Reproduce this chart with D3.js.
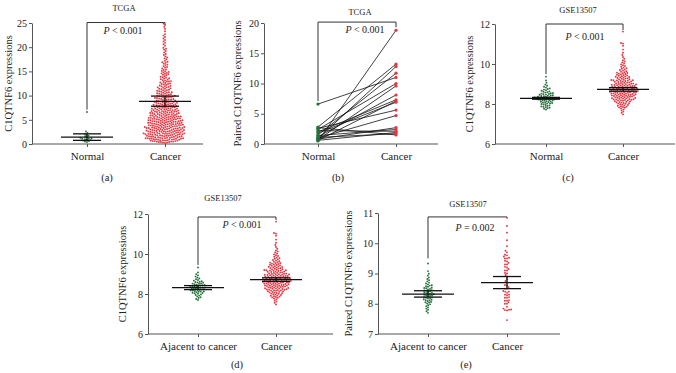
<!DOCTYPE html>
<html>
<head>
<meta charset="utf-8">
<script src="https://cdn.jsdelivr.net/npm/d3@7"></script>
<style>
  body { margin: 0; background: #fff; }
  text { font-family: "Liberation Serif", "Times New Roman", serif; fill: #222; }
</style>
</head>
<body>
<div id="wrapper"></div>
<script>
// ---- data ----

// (a) TCGA, all samples
const normalA = [0.4,0.5,0.6,0.7,0.8,0.9,1.0,1.1,1.1,1.2,1.3,1.4,1.6,1.7,1.9,2.1,2.3,2.6,6.6];
const cancerA = [
  0.2,0.3,0.3,0.4,0.4,0.4,0.5,0.5,0.5,0.6,0.6,0.6,0.7,0.7,0.7,0.8,0.8,0.8,0.9,0.9,0.9,0.9,
  1.0,1.0,1.0,1.1,1.1,1.1,1.1,1.2,1.2,1.2,1.2,1.2,1.3,1.3,1.3,1.4,1.4,1.4,1.4,1.5,1.5,1.5,1.5,
  1.6,1.6,1.6,1.7,1.7,1.7,1.7,1.7,1.8,1.8,1.8,1.9,1.9,1.9,1.9,
  2.0,2.0,2.0,2.0,2.1,2.1,2.1,2.1,2.2,2.2,2.2,2.2,2.2,2.3,2.3,2.3,2.3,2.4,2.4,2.4,
  2.5,2.5,2.5,2.5,2.6,2.6,2.6,2.6,2.7,2.7,2.7,2.7,2.8,2.8,2.8,2.8,2.9,2.9,2.9,2.9,
  3.0,3.0,3.0,3.0,3.1,3.1,3.1,3.2,3.2,3.2,3.2,3.3,3.3,3.3,3.3,3.3,3.4,3.4,3.4,3.4,
  3.5,3.5,3.5,3.5,3.6,3.6,3.6,3.7,3.7,3.7,3.7,3.8,3.8,3.8,3.8,3.9,3.9,3.9,3.9,
  4.0,4.0,4.0,4.0,4.1,4.1,4.1,4.1,4.2,4.2,4.2,4.3,4.3,4.3,4.3,4.4,4.4,4.4,4.4,
  4.5,4.5,4.5,4.6,4.6,4.6,4.6,4.7,4.7,4.7,4.7,4.8,4.8,4.8,4.9,4.9,4.9,4.9,
  5.0,5.0,5.0,5.1,5.1,5.1,5.1,5.2,5.2,5.2,5.3,5.3,5.3,5.3,5.4,5.4,5.4,
  5.5,5.5,5.5,5.5,5.6,5.6,5.6,5.7,5.7,5.7,5.7,5.8,5.8,5.8,5.9,5.9,5.9,
  6.0,6.0,6.0,6.1,6.1,6.1,6.2,6.2,6.2,6.3,6.3,6.3,6.4,6.4,6.4,
  6.5,6.5,6.5,6.6,6.6,6.6,6.7,6.7,6.7,6.8,6.8,6.8,6.9,6.9,6.9,
  7.0,7.0,7.0,7.1,7.1,7.1,7.2,7.2,7.3,7.3,7.3,7.4,7.4,7.4,
  7.5,7.5,7.6,7.6,7.6,7.7,7.7,7.7,7.8,7.8,7.9,7.9,7.9,
  8.0,8.0,8.1,8.1,8.1,8.2,8.2,8.3,8.3,8.4,8.4,8.4,8.5,8.5,8.6,8.6,8.7,8.7,8.7,8.8,8.8,8.9,8.9,
  9.0,9.0,9.1,9.1,9.2,9.2,9.3,9.3,9.4,9.4,9.5,9.5,9.6,9.6,9.7,9.7,9.8,9.8,9.9,9.9,
  10.0,10.0,10.1,10.1,10.2,10.3,10.3,10.4,10.4,10.5,10.6,10.6,10.7,10.7,10.8,10.9,10.9,
  11.0,11.1,11.1,11.2,11.3,11.4,11.4,11.5,11.6,11.7,11.7,11.8,11.9,11.9,
  12.0,12.1,12.2,12.3,12.4,12.4,12.5,12.6,12.7,12.8,12.9,12.9,
  13.0,13.1,13.2,13.3,13.4,13.5,13.6,13.7,13.8,13.9,
  14.0,14.2,14.3,14.4,14.5,14.6,14.7,14.8,14.9,
  15.0,15.1,15.3,15.4,15.6,15.8,15.9,16.1,16.3,16.4,16.6,16.8,16.9,
  17.0,17.2,17.5,17.7,17.9,18.1,18.4,18.6,18.9,19.2,19.5,19.7,19.9,
  20.3,20.6,20.9,21.2,21.5,21.8,22.1,22.4,22.7,23.3,23.8,24.2,24.6,24.9
];

// (b) TCGA, paired samples (same order in both arrays)
const normalB = [6.6,0.5,2.8,0.9,1.5,2.4,0.7,1.2,2.0,0.6,1.8,2.6,1.0,0.8,1.4,2.2,0.6,1.1,2.7];
const cancerB = [11.0,18.8,13.2,12.8,11.7,10.0,9.6,8.1,7.3,7.1,6.9,5.6,4.7,2.7,2.4,2.1,1.9,1.7,1.5];

// (c) GSE13507 normal
const normalC = [
  7.72,7.76,7.79,7.81,7.84,7.86,7.88,7.90,7.93,7.95,7.98,
  8.00,8.02,8.03,8.05,8.06,8.08,8.10,8.11,8.13,8.14,8.16,8.17,8.19,8.20,
  8.21,8.22,8.23,8.24,8.25,8.26,8.27,8.28,8.29,8.30,8.31,8.32,8.33,8.34,8.36,8.37,8.39,
  8.40,8.41,8.43,8.44,8.46,8.47,8.49,8.50,8.52,8.54,8.55,8.57,8.59,
  8.61,8.63,8.66,8.69,8.72,8.75,8.78,8.82,8.86,8.91,8.97,9.06,9.18,9.37
];
// GSE13507 cancer (used in c and d)
const cancerGSE = [
  7.48,7.56,7.62,7.68,7.73,7.78,
  7.81,7.83,7.85,7.87,7.89,7.91,7.93,7.95,7.97,7.99,
  8.01,8.02,8.04,8.05,8.07,8.08,8.10,8.11,8.13,8.14,8.16,8.17,8.18,8.19,
  8.20,8.21,8.22,8.23,8.24,8.25,8.26,8.27,8.28,8.29,8.30,8.31,8.32,8.33,8.34,8.35,8.36,8.37,8.38,8.39,
  8.40,8.41,8.41,8.42,8.43,8.44,8.45,8.46,8.46,8.47,8.48,8.49,8.50,8.51,8.52,8.53,8.53,8.54,8.55,8.56,8.57,8.58,8.58,8.59,
  8.60,8.61,8.61,8.62,8.63,8.64,8.64,8.65,8.66,8.67,8.68,8.68,8.69,8.70,8.71,8.72,8.72,8.73,8.74,8.75,8.76,8.76,8.77,8.78,8.79,8.79,
  8.80,8.81,8.82,8.83,8.84,8.85,8.86,8.87,8.88,8.89,8.90,8.90,8.91,8.92,8.93,8.94,8.95,8.96,8.97,8.98,8.99,8.99,
  9.00,9.01,9.02,9.03,9.05,9.06,9.07,9.08,9.10,9.11,9.12,9.13,9.15,9.16,9.17,9.18,9.19,9.19,
  9.20,9.21,9.23,9.24,9.26,9.27,9.29,9.30,9.32,9.33,9.35,9.36,9.38,9.39,
  9.41,9.43,9.45,9.46,9.48,9.50,9.52,9.54,9.55,9.57,9.59,
  9.61,9.64,9.67,9.70,9.73,9.76,9.79,9.82,9.86,9.90,9.94,9.98,
  10.03,10.08,10.13,10.18,10.26,10.35,10.45,10.56,10.72,10.91,11.02,11.05,11.62
];
// GSE13507 adjacent to cancer (used in d and e)
const adjacentGSE = [
  7.70,7.75,7.80,7.84,7.88,7.92,7.95,7.98,
  8.01,8.04,8.05,8.06,8.09,8.11,8.12,8.13,8.15,8.17,8.18,
  8.20,8.21,8.22,8.24,8.26,8.27,8.28,8.30,8.31,8.32,8.33,8.35,8.36,8.37,8.39,
  8.41,8.43,8.44,8.45,8.47,8.49,8.51,8.52,8.53,8.56,8.58,
  8.60,8.61,8.64,8.67,8.70,8.74,8.78,8.82,8.87,8.93,8.99,9.08,9.33
];
// (e) GSE13507 paired cancer
const cancerE = [
  7.46,7.78,7.79,7.80,7.81,7.84,7.90,8.00,8.00,8.05,8.10,8.10,8.12,
  8.20,8.20,8.22,8.28,8.30,8.30,8.36,8.40,8.40,8.42,8.50,8.50,8.55,8.60,8.62,
  8.70,8.75,8.82,8.90,8.95,9.00,9.02,9.10,9.10,9.15,9.20,9.22,9.30,9.30,9.35,
  9.40,9.42,9.50,9.50,9.52,9.56,9.60,9.62,9.70,9.75,9.90,10.10,10.35,10.57,10.84
];

// center line, lower and upper whisker for each group
const summaryA = [[1.4, 0.75, 2.1], [8.8, 7.8, 9.9]];
const summaryC = [[8.28, 8.24, 8.33], [8.73, 8.64, 8.82]];
const summaryD = [[8.32, 8.22, 8.42], [8.72, 8.63, 8.81]];
const summaryE = [[8.32, 8.22, 8.43], [8.70, 8.50, 8.90]];

// tick labels
const ticksA = [0, 5, 10, 15, 20, 25];
const ticksB = [0, 5, 10, 15, 20];
const ticksCD = [6, 8, 10, 12];
const ticksE = [7, 8, 9, 10, 11];

const catsNormal = ["Normal", "Cancer"];
const catsAdjacent = ["Ajacent to cancer", "Cancer"];

const green = "#24713a";
const red = "#e8323e";

// ---- layout of each panel ----
const panels = [
  {id:"(a)", title:"TCGA", ylab:"C1QTNF6 expressions", pText:"< 0.001",
   cats:catsNormal, groups:[normalA, cancerA], summary:summaryA,
   domain:[0,25], ticks:ticksA, axisX:32, xEnd:203, top:23, bottom:144, catX:[87,165],
   titleXY:[124,11], pXY:[123,34], labXY:[107,181], ylabX:12,
   bracket:[25.1, 7.1, 24.6]},
  {id:"(b)", title:"TCGA", ylab:"Paired C1QTNF6 expressions", pText:"< 0.001",
   cats:catsNormal, paired:[normalB, cancerB],
   domain:[0,20], ticks:ticksB, axisX:264, xEnd:438, top:23, bottom:144, catX:[318,396],
   titleXY:[360,15], pXY:[365,33], labXY:[338,181], ylabX:241,
   bracket:[20.15, 7.1, 19.3]},
  {id:"(c)", title:"GSE13507", ylab:"C1QTNF6 expressions", pText:"< 0.001",
   cats:catsNormal, groups:[normalC, cancerGSE], summary:summaryC,
   domain:[6,12], ticks:ticksCD, axisX:495, xEnd:675, top:24, bottom:144, catX:[546,623],
   titleXY:[578,13], pXY:[585,40], labXY:[568,181], ylabX:473,
   bracket:[12.0, 9.5, 11.7]},
  {id:"(d)", title:"GSE13507", ylab:"C1QTNF6 expressions", pText:"< 0.001",
   cats:catsAdjacent, groups:[adjacentGSE, cancerGSE], summary:summaryD,
   domain:[6,12], ticks:ticksCD, axisX:148, xEnd:333, top:214, bottom:334, catX:[198,276],
   titleXY:[223,201], pXY:[242,228], labXY:[237,368], ylabX:126,
   bracket:[11.85, 9.45, 11.7]},
  {id:"(e)", title:"GSE13507", ylab:"Paired C1QTNF6 expressions", pText:"= 0.002",
   cats:catsAdjacent, groups:[adjacentGSE, cancerE], summary:summaryE,
   domain:[7,11], ticks:ticksE, axisX:378, xEnd:560, top:213, bottom:334, catX:[428,507],
   titleXY:[468,207], pXY:[475,231], labXY:[466,368], ylabX:352,
   bracket:[10.87, 9.5, 10.85]}
];

const svg = d3.select("#wrapper").append("svg")
  .attr("width", 676)
  .attr("height", 373);

// place dots side by side so they don't overlap (bottom up)
function dodge(vals, y, pad) {
  const pts = vals.map(v => ({v: v, y: y(v)})).sort((a, b) => b.y - a.y);
  const placed = [];
  for (const p of pts) {
    const iv = [];
    for (const q of placed) {
      const dy = Math.abs(q.y - p.y);
      if (dy < pad) {
        const dx = Math.sqrt(pad * pad - dy * dy);
        iv.push([q.x - dx, q.x + dx]);
      }
    }
    const cands = [0].concat(...iv).sort((a, b) => Math.abs(a) - Math.abs(b));
    p.x = cands.find(c => iv.every(([a, b]) => c <= a + 1e-6 || c >= b - 1e-6));
    placed.push(p);
  }
  return pts;
}

function drawPanel(p) {
  const g = svg.append("g");
  const y = d3.scaleLinear().domain(p.domain).range([p.bottom, p.top]);
  const x = d3.scalePoint().domain(p.cats).range(p.catX);

  // y axis
  const ya = g.append("g")
    .attr("transform", `translate(${p.axisX},0)`)
    .call(d3.axisLeft(y).tickValues(p.ticks).tickFormat(d3.format("d"))
      .tickSize(3).tickSizeOuter(0).tickPadding(2));
  ya.selectAll("path, line").attr("stroke", "#555");
  ya.selectAll("text").style("font-family", '"Liberation Serif", serif')
    .style("font-size", "10px").attr("fill", "#222");

  // x axis
  g.append("line")
    .attr("x1", p.axisX).attr("x2", p.xEnd)
    .attr("y1", p.bottom).attr("y2", p.bottom)
    .attr("stroke", "#555");
  const xa = g.append("g")
    .attr("transform", `translate(0,${p.bottom})`)
    .call(d3.axisBottom(x).tickSize(3).tickSizeOuter(0).tickPadding(5));
  xa.select(".domain").remove();
  xa.selectAll("line").attr("stroke", "#555");
  xa.selectAll("text").style("font-family", '"Liberation Serif", serif')
    .style("font-size", "11px").attr("fill", "#222");

  // y label
  g.append("text")
    .attr("transform", `translate(${p.ylabX},${(p.top + p.bottom) / 2}) rotate(-90)`)
    .attr("text-anchor", "middle")
    .style("font-size", "10.5px")
    .text(p.ylab);

  // title and panel letter
  g.append("text").attr("x", p.titleXY[0]).attr("y", p.titleXY[1])
    .attr("text-anchor", "middle").style("font-size", "8.5px").text(p.title);
  g.append("text").attr("x", p.labXY[0]).attr("y", p.labXY[1])
    .attr("text-anchor", "middle").style("font-size", "10.5px").text(p.id);

  // significance bracket
  const bx0 = x(p.cats[0]), bx1 = x(p.cats[1]);
  g.append("path")
    .attr("d", `M${bx0},${y(p.bracket[1])}V${y(p.bracket[0])}H${bx1}V${y(p.bracket[2])}`)
    .attr("fill", "none").attr("stroke", "#333").attr("stroke-width", 1);
  const pt = g.append("text").attr("x", p.pXY[0]).attr("y", p.pXY[1])
    .attr("text-anchor", "middle").style("font-size", "10px");
  pt.append("tspan").style("font-style", "italic").text("P");
  pt.append("tspan").text(" " + p.pText);

  if (p.paired) {
    const [a, b] = p.paired;
    g.selectAll(".pair").data(a).join("line")
      .attr("class", "pair")
      .attr("x1", x(p.cats[0])).attr("x2", x(p.cats[1]))
      .attr("y1", d => y(d)).attr("y2", (d, i) => y(b[i]))
      .attr("stroke", "#111").attr("stroke-width", 0.8);
    g.selectAll(".pn").data(a).join("circle").attr("class", "pn")
      .attr("cx", x(p.cats[0])).attr("cy", d => y(d)).attr("r", 1.6).attr("fill", green);
    g.selectAll(".pc").data(b).join("circle").attr("class", "pc")
      .attr("cx", x(p.cats[1])).attr("cy", d => y(d)).attr("r", 1.6).attr("fill", red);
    return;
  }

  // dots
  p.groups.forEach((vals, gi) => {
    const cx = x(p.cats[gi]);
    const pts = dodge(vals, y, 2.1);
    g.append("g").selectAll("circle").data(pts).join("circle")
      .attr("cx", d => cx + d.x)
      .attr("cy", d => d.y)
      .attr("r", 0.95)
      .attr("fill", gi === 0 ? green : red);
  });

  // center line with whiskers
  p.summary.forEach((s, gi) => {
    const cx = x(p.cats[gi]);
    const sg = g.append("g").attr("stroke", "#111").attr("stroke-width", 1.3);
    sg.append("line").attr("x1", cx - 26).attr("x2", cx + 26).attr("y1", y(s[0])).attr("y2", y(s[0]));
    [s[1], s[2]].forEach(v => {
      sg.append("line").attr("x1", cx - 14).attr("x2", cx + 14).attr("y1", y(v)).attr("y2", y(v));
    });
    sg.append("line").attr("x1", cx).attr("x2", cx).attr("y1", y(s[1])).attr("y2", y(s[2]));
  });
}

panels.forEach(drawPanel);
</script>
</body>
</html>
